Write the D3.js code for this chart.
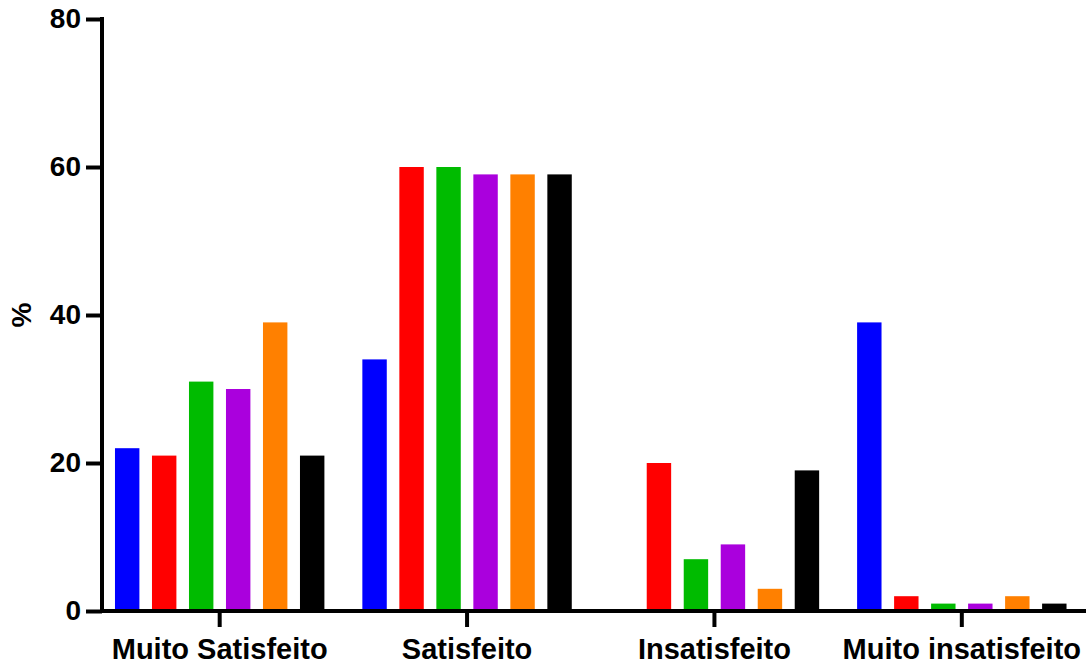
<!DOCTYPE html>
<html><head><meta charset="utf-8">
<script src="https://cdn.jsdelivr.net/npm/d3@7"></script>
<style>body{margin:0;background:#fff}svg{display:block}text{font-family:"Liberation Sans",Arial,sans-serif;font-weight:bold}</style>
</head><body><svg id="c" width="1090" height="668"></svg>
<script>
const categories = ["Muito Satisfeito","Satisfeito","Insatisfeito","Muito insatisfeito"];
const seriesNames = ["S1","S2","S3","S4","S5","S6"];
const seriesColors = ["#0000ff","#ff0000","#00bb00","#aa00dd","#ff8000","#000000"];
const s1 = [22,34,0,39];
const s2 = [21,60,20,2];
const s3 = [31,60,7,1];
const s4 = [30,59,9,1];
const s5 = [39,59,3,2];
const s6 = [21,59,19,1];
const seriesValues = [s1,s2,s3,s4,s5,s6];
const yTicks = [0,20,40,60,80];

const svg = d3.select("#c");
const y = d3.scaleLinear().domain([0,80]).range([611,19]);
const x0 = d3.scaleBand().domain(categories).range([96,1085.5]).padding(0);
const x1 = d3.scaleBand().domain(seriesNames).range([-111,111]).paddingInner(0.34).paddingOuter(0.17);

categories.forEach((c,i)=>{
  seriesValues.forEach((vals,j)=>{
    const v = vals[i];
    if (!v) return;
    svg.append("rect")
      .attr("x", x0(c)+x0.bandwidth()/2 + x1(seriesNames[j]))
      .attr("width", x1.bandwidth())
      .attr("y", y(v))
      .attr("height", y(0)-y(v))
      .attr("fill", seriesColors[j]);
  });
});

// y axis
const ya = svg.append("g").attr("transform","translate(102,0)")
  .call(d3.axisLeft(y).tickValues(yTicks).tickSize(16).tickSizeOuter(0).tickPadding(5));
ya.select(".domain").attr("stroke","#000").attr("stroke-width",4).attr("d","M0,"+(y(80)-2)+"V"+(y(0)+2));
ya.selectAll(".tick line").attr("stroke","#000").attr("stroke-width",4);
ya.selectAll(".tick text").attr("font-size",28).attr("fill","#000").attr("font-family","Liberation Sans, Arial, sans-serif").attr("font-weight","bold");

// x axis
const xa = svg.append("g").attr("transform","translate(0,611)")
  .call(d3.axisBottom(x0).tickSize(16).tickSizeOuter(0).tickPadding(11));
xa.select(".domain").attr("stroke","#000").attr("stroke-width",4).attr("d","M100,0H1086");
xa.selectAll(".tick line").attr("stroke","#000").attr("stroke-width",4);
xa.selectAll(".tick text").attr("font-size",29).attr("fill","#000").attr("font-family","Liberation Sans, Arial, sans-serif").attr("font-weight","bold");

svg.append("text").attr("transform","translate(31,315) rotate(-90)").attr("text-anchor","middle")
  .attr("font-size",28).text("%");
</script></body></html>
